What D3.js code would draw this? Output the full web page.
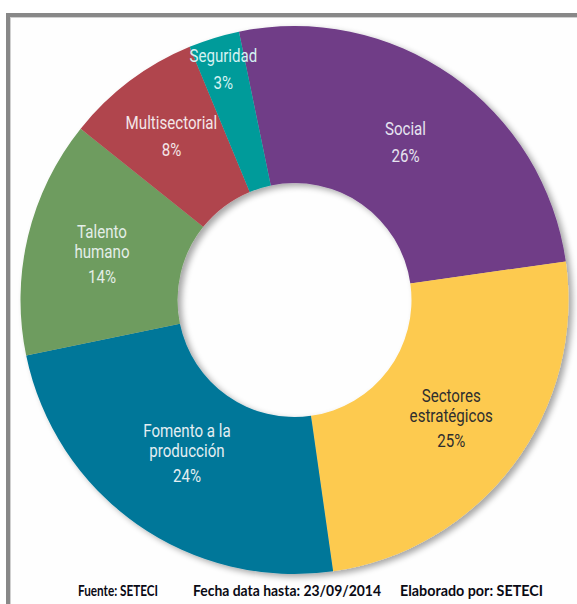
<!DOCTYPE html>
<html>
<head>
<meta charset="utf-8">
<script src="https://cdn.jsdelivr.net/npm/d3@7"></script>
<style>
  html, body { margin: 0; padding: 0; background: #fff; }
  svg { display: block; }
</style>
</head>
<body>
<div id="chart"></div>
<script>
// Slices, clockwise from the top
const categories = ["Social", "Sectores estratégicos", "Fomento a la producción", "Talento humano", "Multisectorial", "Seguridad"];
const labelLines = [["Social"], ["Sectores", "estratégicos"], ["Fomento a la", "producción"], ["Talento", "humano"], ["Multisectorial"], ["Seguridad"]];
const values = [26, 25, 24, 14, 8, 3];
const colors = ["#6f3d87", "#fdca4f", "#007799", "#6e9c5e", "#b0444d", "#009b9a"];
const textColors = ["#e6e4f0", "#2e2e2e", "#e4eef2", "#e4eee8", "#f4e6e8", "#d4f2f2"];
const footer = ["Fuente: SETECI", "Fecha data hasta: 23/09/2014", "Elaborado por:  SETECI"];

const width = 577, height = 604;
const cx = 294.5, cy = 300;
const outerR = 274, innerR = 117;
// how far from the centre each label sits
const labelR = [193, 196, 187, 198, 205, 242];

const svg = d3.select("#chart")
  .append("svg")
  .attr("width", width)
  .attr("height", height);

// drop shadow for the ring
const defs = svg.append("defs");
const filter = defs.append("filter")
  .attr("id", "shadow")
  .attr("x", "-10%").attr("y", "-10%")
  .attr("width", "120%").attr("height", "120%");
filter.append("feGaussianBlur").attr("in", "SourceAlpha").attr("stdDeviation", 3);
filter.append("feOffset").attr("dx", 4).attr("dy", 3).attr("result", "off");
filter.append("feComponentTransfer").append("feFuncA").attr("type", "linear").attr("slope", 0.35);
const merge = filter.append("feMerge");
merge.append("feMergeNode");
merge.append("feMergeNode").attr("in", "SourceGraphic");

// frame
svg.append("rect")
  .attr("x", 8).attr("y", 15)
  .attr("width", width + 20).attr("height", height + 20)
  .attr("fill", "#fefefe")
  .attr("stroke", "#888")
  .attr("stroke-width", 4);
svg.append("rect")
  .attr("x", 10.5).attr("y", 17.5)
  .attr("width", width + 20).attr("height", height + 20)
  .attr("fill", "none")
  .attr("stroke", "#d0d0d0")
  .attr("stroke-width", 1);

const start = -11.7 * Math.PI / 180;
const pie = d3.pie().sort(null).startAngle(start).endAngle(start + 2 * Math.PI);
const arcs = pie(values);

const arc = d3.arc().innerRadius(innerR).outerRadius(outerR);

const g = svg.append("g").attr("transform", `translate(${cx},${cy})`);

g.append("g")
  .attr("filter", "url(#shadow)")
  .selectAll("path")
  .data(arcs)
  .join("path")
  .attr("d", arc)
  .attr("fill", (d, i) => colors[i]);

// labels
const labels = g.selectAll("text.lbl")
  .data(arcs)
  .join("text")
  .attr("class", "lbl")
  .attr("text-anchor", "middle")
  .attr("font-family", "Roboto, 'Liberation Sans', sans-serif")
  .attr("font-weight", 400)
  .attr("font-size", 18)
  .attr("fill", (d, i) => textColors[i])
  .attr("transform", (d, i) => {
    const r = labelR[i];
    const a = (d.startAngle + d.endAngle) / 2;
    return `translate(${Math.sin(a) * r},${-Math.cos(a) * r}) scale(0.84,1)`;
  });

labels.each(function(d, i) {
  const t = d3.select(this);
  const lines = labelLines[i];
  const n = lines.length;
  const gap = n > 1 ? 25 : 27;
  const total = (n - 1) * 20 + gap;
  const y0 = -total / 2 + 6.5;
  lines.forEach((l, j) => {
    t.append("tspan").attr("x", 0).attr("y", y0 + j * 20).text(l);
  });
  t.append("tspan").attr("x", 0).attr("y", y0 + (n - 1) * 20 + gap).text(d.value + "%");
});

// footer
const footX = [78, 193, 400];
const footW = [80, 188, 143];
svg.selectAll("text.foot")
  .data(footer)
  .join("text")
  .attr("class", "foot")
  .attr("x", (d, i) => footX[i])
  .attr("y", 596)
  .attr("font-family", "'Lato', 'Open Sans', sans-serif")
  .attr("font-weight", "bold")
  .attr("font-size", 15)
  .attr("fill", "#0a0a14")
  .attr("textLength", (d, i) => footW[i])
  .attr("lengthAdjust", "spacingAndGlyphs")
  .text(d => d);
</script>
</body>
</html>
